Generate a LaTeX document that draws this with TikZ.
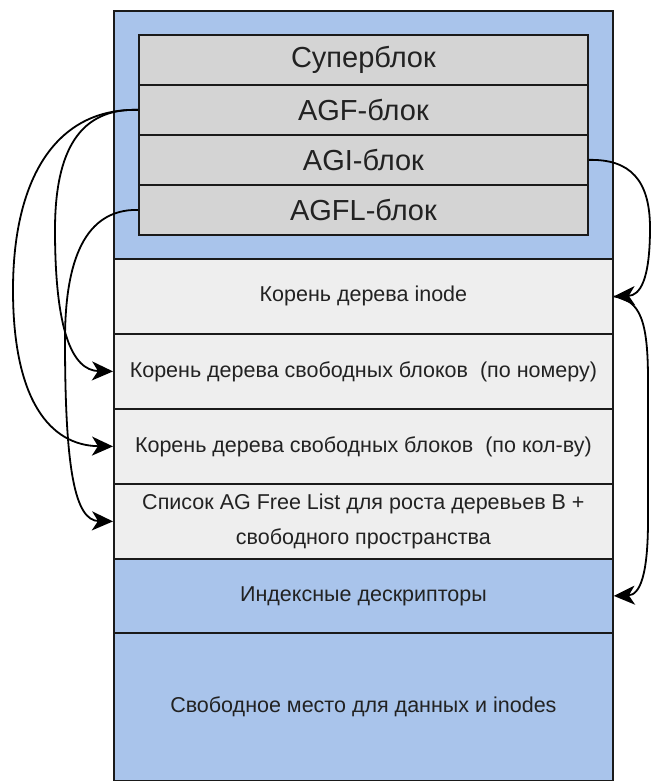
\documentclass[tikz,border=0pt]{standalone}
\usepackage{fontspec}
\setmainfont{Liberation Sans}
\usetikzlibrary{arrows.meta}
\definecolor{blueC}{HTML}{A9C4EB}
\definecolor{grayC}{HTML}{D4D4D4}
\definecolor{lightC}{HTML}{EEEEEE}
\definecolor{lineC}{HTML}{1A1A1A}
\definecolor{textC}{HTML}{222222}
\begin{document}
\begin{tikzpicture}[x=1pt,y=-1pt,
  box/.style={draw=lineC, line width=1.8pt, rectangle, anchor=north west, inner sep=0pt, align=center, text=textC},
  bigtxt/.style={font=\fontsize{29}{32}\selectfont},
  smalltxt/.style={font=\fontsize{21.5}{35}\selectfont},
  conn/.style={draw=black, line width=1.8pt, -{Stealth[length=21pt,width=19pt,inset=6pt]}}]
\useasboundingbox (0,0) rectangle (652,781);
% top section
\node[box, fill=blueC, minimum width=499pt, minimum height=248pt] (topsec) at (113,10) {};
\node[box, fill=grayC, bigtxt, minimum width=449pt, minimum height=50pt] (sb) at (138,34) {Суперблок};
\node[box, fill=grayC, bigtxt, minimum width=449pt, minimum height=50pt] (agf) at (138,84) {AGF-блок};
\node[box, fill=grayC, bigtxt, minimum width=449pt, minimum height=50pt] (agi) at (138,134) {AGI-блок};
\node[box, fill=grayC, bigtxt, minimum width=449pt, minimum height=50pt] (agfl) at (138,184) {AGFL-блок};
% rows
\node[box, fill=lightC, smalltxt, minimum width=499pt, minimum height=75pt] (inode) at (113,258) {Корень дерева inode};
\node[box, fill=lightC, smalltxt, minimum width=499pt, minimum height=75pt] (num) at (113,333) {Корень дерева свободных блоков~ (по номеру)};
\node[box, fill=lightC, smalltxt, minimum width=499pt, minimum height=75pt] (cnt) at (113,408) {Корень дерева свободных блоков~ (по кол-ву)};
\node[box, fill=lightC, smalltxt, minimum width=499pt, minimum height=75pt] (list) at (113,483) {Список AG Free List для роста деревьев В +\\свободного пространства};
\node[box, fill=blueC, smalltxt, minimum width=499pt, minimum height=74pt] (idx) at (113,558) {Индексные дескрипторы};
\node[box, fill=blueC, smalltxt, minimum width=499pt, minimum height=148pt] (free) at (113,632) {Свободное место для данных и inodes};
% connectors left
\draw[conn] (agf.west) .. controls (80,108) and (55,150) .. (55,230) .. controls (55,330) and (72,370.5) .. (num.west);
\draw[conn] (agf.west) .. controls (55,108) and (13,180) .. (13,290) .. controls (13,400) and (50,445.5) .. (cnt.west);
\draw[conn] (agfl.west) .. controls (85,209) and (65,260) .. (65,340) .. controls (65,470) and (75,520.5) .. (list.west);
% connectors right
\draw[conn] (agi.east) .. controls (630,159) and (650,180) .. (650,228) .. controls (650,280) and (640,295.5) .. (inode.east);
\draw[conn] (inode.east) .. controls (640,300) and (648,320) .. (648,380) -- (648,520) .. controls (648,575) and (640,595) .. (idx.east);
\end{tikzpicture}
\end{document}
